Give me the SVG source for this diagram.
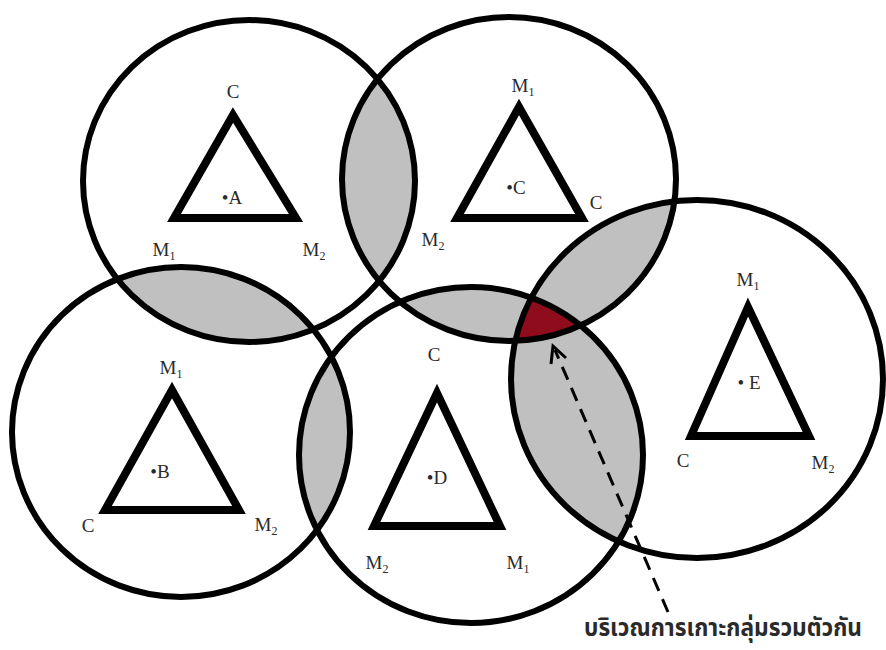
<svg xmlns="http://www.w3.org/2000/svg" width="886" height="650" viewBox="0 0 886 650">
<style>
.ring{fill:none;stroke:#000;stroke-width:6}
.tri{fill:none;stroke:#000;stroke-width:8;stroke-linejoin:miter}
.lens{fill:#c0c0c0}
.lbl{font-family:"Liberation Serif","Times New Roman",serif;font-size:19px;fill:#2a2a2a;text-anchor:middle}
.sub{font-size:12px}
.th{font-family:"Noto Sans Thai","Noto Sans","DejaVu Sans",sans-serif;font-size:24px;font-weight:bold;fill:#2a2a2a}
</style>
<defs>
<clipPath id="cA"><ellipse cx="249" cy="181" rx="166" ry="161"/></clipPath>
<clipPath id="cC"><ellipse cx="509" cy="179" rx="167" ry="162"/></clipPath>
<clipPath id="cB"><ellipse cx="181" cy="432" rx="169" ry="165"/></clipPath>
<clipPath id="cD"><ellipse cx="471" cy="455" rx="172" ry="168"/></clipPath>
<clipPath id="cE"><ellipse cx="697" cy="379" rx="186" ry="179"/></clipPath>
</defs>
<rect width="886" height="650" fill="#fff"/>
<g id="overlaps">
<ellipse class="lens" cx="509" cy="179" rx="167" ry="162" clip-path="url(#cA)"/>
<ellipse class="lens" cx="181" cy="432" rx="169" ry="165" clip-path="url(#cA)"/>
<ellipse class="lens" cx="471" cy="455" rx="172" ry="168" clip-path="url(#cB)"/>
<ellipse class="lens" cx="471" cy="455" rx="172" ry="168" clip-path="url(#cC)"/>
<ellipse class="lens" cx="697" cy="379" rx="186" ry="179" clip-path="url(#cC)"/>
<ellipse class="lens" cx="697" cy="379" rx="186" ry="179" clip-path="url(#cD)"/>
<g clip-path="url(#cC)"><ellipse cx="697" cy="379" rx="186" ry="179" fill="#8e0c1c" clip-path="url(#cD)"/></g>
</g>
<g id="nodeA">
<ellipse class="ring" cx="249" cy="181" rx="166" ry="161"/>
<polygon class="tri" points="233,115 174,218 296,218"/>
<text class="lbl" x="233" y="98">C</text>
<text class="lbl" x="232" y="204">•A</text>
<text class="lbl" x="164" y="256">M<tspan class="sub" dy="4">1</tspan></text>
<text class="lbl" x="314" y="256">M<tspan class="sub" dy="4">2</tspan></text>
</g>
<g id="nodeC">
<ellipse class="ring" cx="509" cy="179" rx="167" ry="162"/>
<polygon class="tri" points="519,107 457,218 582,218"/>
<text class="lbl" x="523" y="92">M<tspan class="sub" dy="4">1</tspan></text>
<text class="lbl" x="516" y="194">•C</text>
<text class="lbl" x="596" y="209">C</text>
<text class="lbl" x="433" y="246">M<tspan class="sub" dy="4">2</tspan></text>
</g>
<g id="nodeB">
<ellipse class="ring" cx="181" cy="432" rx="169" ry="165"/>
<polygon class="tri" points="172,390 105,510 239,510"/>
<text class="lbl" x="171" y="374">M<tspan class="sub" dy="4">1</tspan></text>
<text class="lbl" x="160" y="478">•B</text>
<text class="lbl" x="88" y="532">C</text>
<text class="lbl" x="266" y="531">M<tspan class="sub" dy="4">2</tspan></text>
</g>
<g id="nodeD">
<ellipse class="ring" cx="471" cy="455" rx="172" ry="168"/>
<polygon class="tri" points="437,393 374,526 500,526"/>
<text class="lbl" x="434" y="361">C</text>
<text class="lbl" x="437" y="484">•D</text>
<text class="lbl" x="377" y="569">M<tspan class="sub" dy="4">2</tspan></text>
<text class="lbl" x="518" y="569">M<tspan class="sub" dy="4">1</tspan></text>
</g>
<g id="nodeE">
<ellipse class="ring" cx="697" cy="379" rx="186" ry="179"/>
<polygon class="tri" points="748,307 691,436 809,436"/>
<text class="lbl" x="748" y="286">M<tspan class="sub" dy="4">1</tspan></text>
<text class="lbl" x="749" y="389">• E</text>
<text class="lbl" x="683" y="467">C</text>
<text class="lbl" x="823" y="469">M<tspan class="sub" dy="4">2</tspan></text>
</g>
<g id="connectors">
<line x1="668" y1="612" x2="555" y2="350" stroke="#000" stroke-width="3" stroke-dasharray="14,9"/>
<polyline points="551,364 553,346 566,358" fill="none" stroke="#000" stroke-width="3"/>
</g>
<text class="th" x="584" y="636" textLength="278" lengthAdjust="spacingAndGlyphs">บริเวณการเกาะกลุ่มรวมตัวกัน</text>
</svg>
